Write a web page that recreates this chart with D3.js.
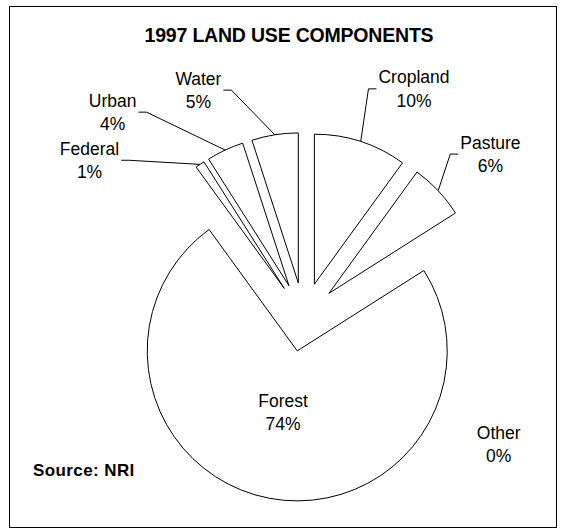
<!DOCTYPE html>
<html>
<head>
<meta charset="utf-8">
<script src="https://cdn.jsdelivr.net/npm/d3@7"></script>
<style>
  html, body { margin: 0; padding: 0; background: #fff; }
  svg { display: block; }
  text { font-family: "Liberation Sans", Arial, sans-serif; fill: #000; }
</style>
</head>
<body>
<svg id="chart" width="565" height="530"></svg>
<script>
// Land use shares, clockwise from 12 o'clock
const categories = ["Cropland", "Pasture", "Other", "Forest", "Federal", "Urban", "Water"];
const shares = [10, 6, 0, 74, 1, 4, 5];
const titleText = "1997 LAND USE COMPONENTS";
const sourceText = "Source: NRI";

// Layout
const W = 565, H = 530;
const cx = 303.7, cy = 317;      // pie centre before explosion
const R = 150;                   // slice radius
const explode = 34.5;            // every slice pushed out along its bisector
const lineGap = 23.5;            // between the name line and the percent line

// Label block centres, as [angle in degrees clockwise from 12 o'clock, distance from pie centre]
const labelPlace = {
  Cropland: [25.8, 253.4],
  Pasture:  [48.9, 247.8],
  Other:    [123.2, 233],
  Forest:   [192.2, 97.8],
  Federal:  [306.2, 265.4],
  Urban:    [317.0, 280.1],
  Water:    [335.1, 250.1]
};
// Slices whose labels hang outside and get a leader line
const withLeader = new Set(["Cropland", "Pasture", "Federal", "Urban", "Water"]);

const svg = d3.select("#chart");

// Outer frame
svg.append("rect")
  .attr("x", 9.5).attr("y", 6.5)
  .attr("width", 547).attr("height", 521)
  .attr("fill", "#fff").attr("stroke", "#000").attr("stroke-width", 1);

// Title
svg.append("text")
  .attr("x", 289).attr("y", 41.5)
  .attr("text-anchor", "middle")
  .style("font-size", "19.5px").style("font-weight", "bold")
  .style("letter-spacing", "-0.2px")
  .text(titleText);

// Source note
svg.append("text")
  .attr("x", 33).attr("y", 475.5)
  .style("font-size", "17px").style("font-weight", "bold")
  .style("letter-spacing", "0.4px")
  .text(sourceText);

const pie = d3.pie().sort(null).value(d => d.value);
const slices = pie(categories.map((name, i) => ({ name, value: shares[i] })));
const arc = d3.arc().innerRadius(0).outerRadius(R);

const polar = (ang, r) => [Math.sin(ang) * r, -Math.cos(ang) * r];

slices.forEach(s => {
  const mid = (s.startAngle + s.endAngle) / 2;
  const [ox, oy] = polar(mid, explode);
  s.apex = [cx + ox, cy + oy];
  const [mx, my] = polar(mid, R);
  s.rim = [s.apex[0] + mx, s.apex[1] + my];
});

const g = svg.append("g");

// Exploded slices (empty ones draw nothing)
g.selectAll("path.slice")
  .data(slices.filter(s => s.value > 0))
  .join("path")
  .attr("class", "slice")
  .attr("transform", s => `translate(${s.apex[0]},${s.apex[1]})`)
  .attr("d", arc)
  .attr("fill", "#fff")
  .attr("stroke", "#000")
  .attr("stroke-width", 1)
  .attr("stroke-linejoin", "miter");

// Labels
const labels = g.selectAll("g.label")
  .data(slices)
  .join("g")
  .attr("class", "label")
  .each(function (s) {
    const [deg, dist] = labelPlace[s.data.name];
    const [lx, ly] = polar(deg * Math.PI / 180, dist);
    s.labelCenter = [cx + lx, cy + ly];
    const b1 = s.labelCenter[1] - 5.6;
    const sel = d3.select(this);
    const t1 = sel.append("text")
      .attr("x", s.labelCenter[0]).attr("y", b1)
      .attr("text-anchor", "middle")
      .style("font-size", "17.5px")
      .text(s.data.name);
    const t2 = sel.append("text")
      .attr("x", s.labelCenter[0]).attr("y", b1 + lineGap)
      .attr("text-anchor", "middle")
      .style("font-size", "17.5px")
      .text(d3.format("d")(s.value) + "%");
    s.labelHalfWidth = Math.max(t1.node().getComputedTextLength(), t2.node().getComputedTextLength()) / 2;
  });

// Leader lines: short horizontal stub at the label, then to the middle of the slice rim
g.selectAll("path.leader")
  .data(slices.filter(s => withLeader.has(s.data.name)))
  .join("path")
  .attr("class", "leader")
  .attr("fill", "none")
  .attr("stroke", "#000")
  .attr("stroke-width", 1)
  .attr("d", s => {
    const [lx, ly] = s.labelCenter;
    const side = s.rim[0] < lx ? -1 : 1;
    const x0 = lx + side * (s.labelHalfWidth + 2);
    const x1 = x0 + side * 8;
    return d3.line()([[x0, ly], [x1, ly], s.rim]);
  });
</script>
</body>
</html>
